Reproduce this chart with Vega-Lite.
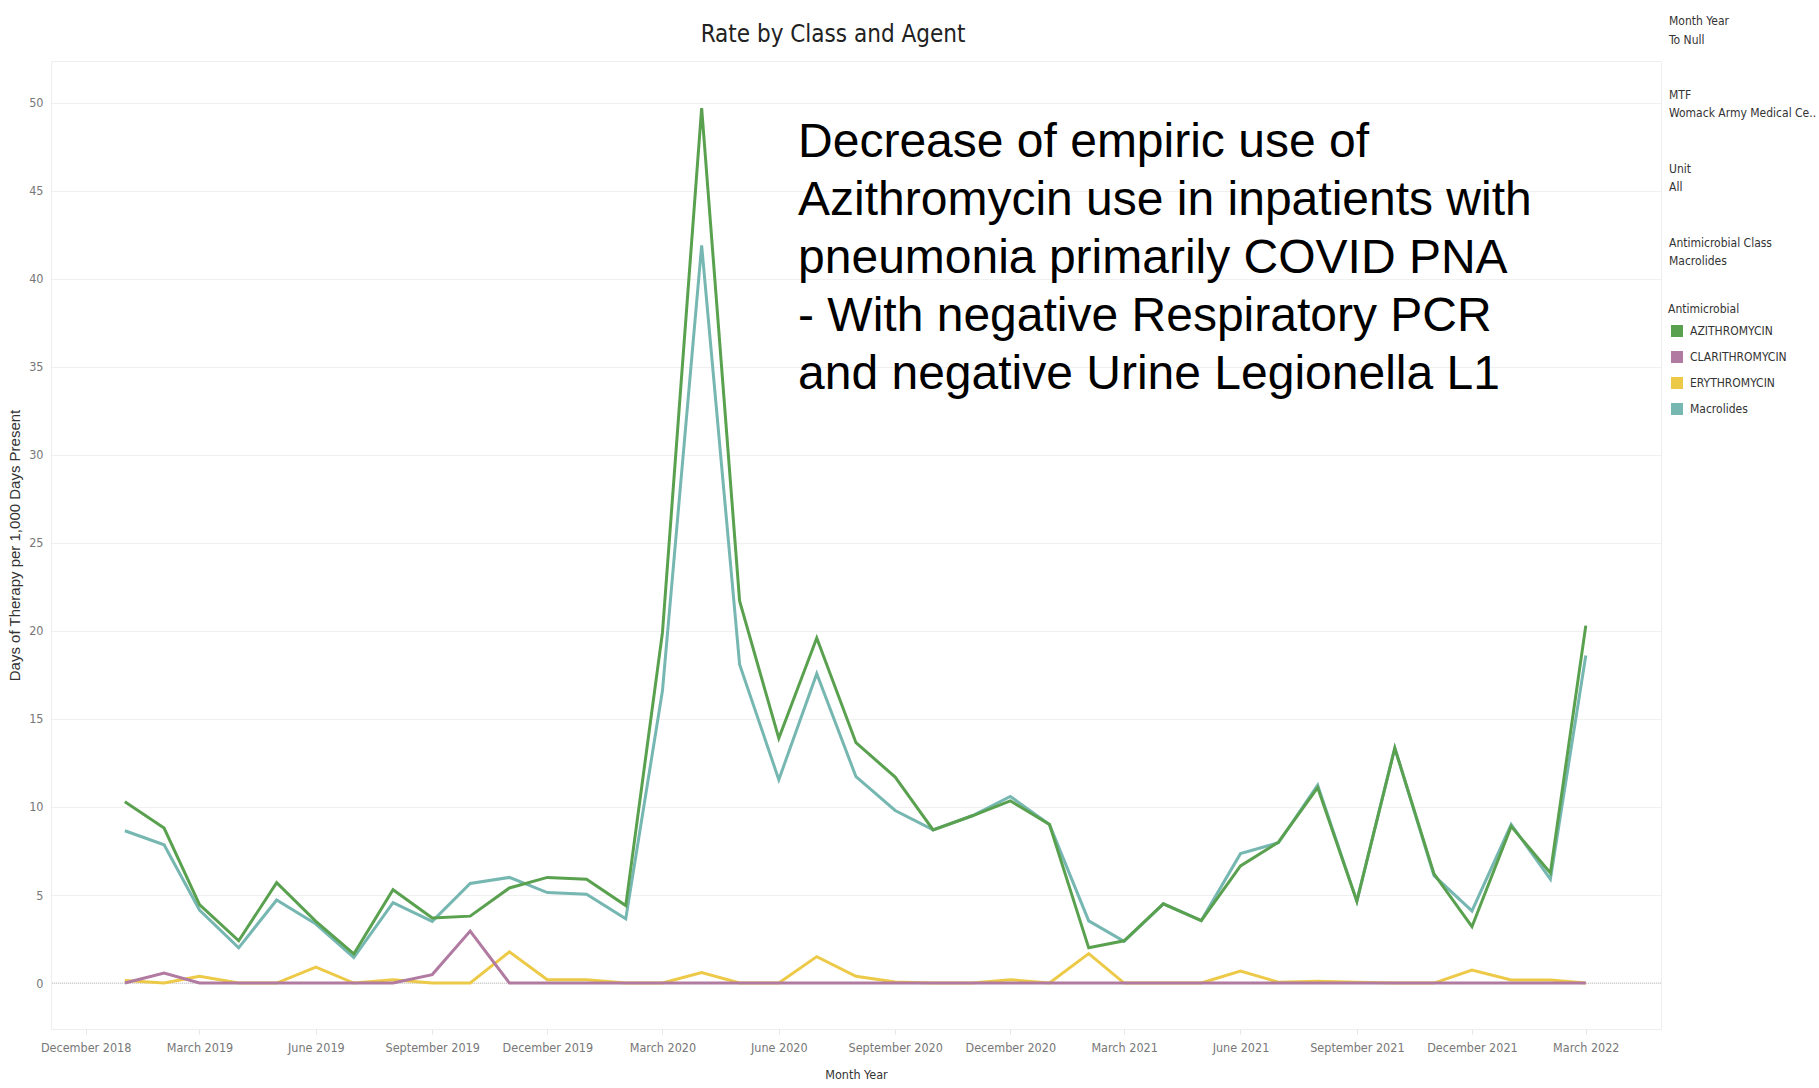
{
  "$schema": "https://vega.github.io/schema/vega-lite/v6.json",
  "background": "white",
  "padding": {"left": 7, "top": 15, "right": 2, "bottom": 2},
  "autosize": {"type": "pad"},
  "bounds": "flush",
  "spacing": 7,
  "config": {
    "font": "Liberation Sans Narrow, Arial Narrow, DejaVu Sans Condensed, Roboto Condensed, sans-serif",
    "view": {"stroke": "#eeeeee"}
  },
  "datasets": {
    "rates": [
      {"month": "2019-01-01", "agent": "AZITHROMYCIN", "rate": 10.3},
      {"month": "2019-02-01", "agent": "AZITHROMYCIN", "rate": 8.8},
      {"month": "2019-03-01", "agent": "AZITHROMYCIN", "rate": 4.45},
      {"month": "2019-04-01", "agent": "AZITHROMYCIN", "rate": 2.4},
      {"month": "2019-05-01", "agent": "AZITHROMYCIN", "rate": 5.7},
      {"month": "2019-06-01", "agent": "AZITHROMYCIN", "rate": 3.5},
      {"month": "2019-07-01", "agent": "AZITHROMYCIN", "rate": 1.65},
      {"month": "2019-08-01", "agent": "AZITHROMYCIN", "rate": 5.3},
      {"month": "2019-09-01", "agent": "AZITHROMYCIN", "rate": 3.7},
      {"month": "2019-10-01", "agent": "AZITHROMYCIN", "rate": 3.8},
      {"month": "2019-11-01", "agent": "AZITHROMYCIN", "rate": 5.4},
      {"month": "2019-12-01", "agent": "AZITHROMYCIN", "rate": 6.0},
      {"month": "2020-01-01", "agent": "AZITHROMYCIN", "rate": 5.9},
      {"month": "2020-02-01", "agent": "AZITHROMYCIN", "rate": 4.4},
      {"month": "2020-03-01", "agent": "AZITHROMYCIN", "rate": 19.9},
      {"month": "2020-04-01", "agent": "AZITHROMYCIN", "rate": 49.7},
      {"month": "2020-05-01", "agent": "AZITHROMYCIN", "rate": 21.7},
      {"month": "2020-06-01", "agent": "AZITHROMYCIN", "rate": 13.9},
      {"month": "2020-07-01", "agent": "AZITHROMYCIN", "rate": 19.6},
      {"month": "2020-08-01", "agent": "AZITHROMYCIN", "rate": 13.65},
      {"month": "2020-09-01", "agent": "AZITHROMYCIN", "rate": 11.7},
      {"month": "2020-10-01", "agent": "AZITHROMYCIN", "rate": 8.7},
      {"month": "2020-11-01", "agent": "AZITHROMYCIN", "rate": 9.5},
      {"month": "2020-12-01", "agent": "AZITHROMYCIN", "rate": 10.35},
      {"month": "2021-01-01", "agent": "AZITHROMYCIN", "rate": 9.0},
      {"month": "2021-02-01", "agent": "AZITHROMYCIN", "rate": 2.0},
      {"month": "2021-03-01", "agent": "AZITHROMYCIN", "rate": 2.4},
      {"month": "2021-04-01", "agent": "AZITHROMYCIN", "rate": 4.5},
      {"month": "2021-05-01", "agent": "AZITHROMYCIN", "rate": 3.55},
      {"month": "2021-06-01", "agent": "AZITHROMYCIN", "rate": 6.65},
      {"month": "2021-07-01", "agent": "AZITHROMYCIN", "rate": 8.0},
      {"month": "2021-08-01", "agent": "AZITHROMYCIN", "rate": 11.1},
      {"month": "2021-09-01", "agent": "AZITHROMYCIN", "rate": 4.65},
      {"month": "2021-10-01", "agent": "AZITHROMYCIN", "rate": 13.35},
      {"month": "2021-11-01", "agent": "AZITHROMYCIN", "rate": 6.2},
      {"month": "2021-12-01", "agent": "AZITHROMYCIN", "rate": 3.2},
      {"month": "2022-01-01", "agent": "AZITHROMYCIN", "rate": 8.9},
      {"month": "2022-02-01", "agent": "AZITHROMYCIN", "rate": 6.25},
      {"month": "2022-03-01", "agent": "AZITHROMYCIN", "rate": 20.3},
      {"month": "2019-01-01", "agent": "Macrolides", "rate": 8.65},
      {"month": "2019-02-01", "agent": "Macrolides", "rate": 7.85},
      {"month": "2019-03-01", "agent": "Macrolides", "rate": 4.15},
      {"month": "2019-04-01", "agent": "Macrolides", "rate": 2.0},
      {"month": "2019-05-01", "agent": "Macrolides", "rate": 4.72},
      {"month": "2019-06-01", "agent": "Macrolides", "rate": 3.35},
      {"month": "2019-07-01", "agent": "Macrolides", "rate": 1.45},
      {"month": "2019-08-01", "agent": "Macrolides", "rate": 4.57},
      {"month": "2019-09-01", "agent": "Macrolides", "rate": 3.5},
      {"month": "2019-10-01", "agent": "Macrolides", "rate": 5.66},
      {"month": "2019-11-01", "agent": "Macrolides", "rate": 6.0},
      {"month": "2019-12-01", "agent": "Macrolides", "rate": 5.14},
      {"month": "2020-01-01", "agent": "Macrolides", "rate": 5.05},
      {"month": "2020-02-01", "agent": "Macrolides", "rate": 3.65},
      {"month": "2020-03-01", "agent": "Macrolides", "rate": 16.6},
      {"month": "2020-04-01", "agent": "Macrolides", "rate": 41.9},
      {"month": "2020-05-01", "agent": "Macrolides", "rate": 18.1},
      {"month": "2020-06-01", "agent": "Macrolides", "rate": 11.55},
      {"month": "2020-07-01", "agent": "Macrolides", "rate": 17.57},
      {"month": "2020-08-01", "agent": "Macrolides", "rate": 11.72},
      {"month": "2020-09-01", "agent": "Macrolides", "rate": 9.8},
      {"month": "2020-10-01", "agent": "Macrolides", "rate": 8.7},
      {"month": "2020-11-01", "agent": "Macrolides", "rate": 9.5},
      {"month": "2020-12-01", "agent": "Macrolides", "rate": 10.6},
      {"month": "2021-01-01", "agent": "Macrolides", "rate": 9.0},
      {"month": "2021-02-01", "agent": "Macrolides", "rate": 3.53},
      {"month": "2021-03-01", "agent": "Macrolides", "rate": 2.37},
      {"month": "2021-04-01", "agent": "Macrolides", "rate": 4.5},
      {"month": "2021-05-01", "agent": "Macrolides", "rate": 3.55},
      {"month": "2021-06-01", "agent": "Macrolides", "rate": 7.35},
      {"month": "2021-07-01", "agent": "Macrolides", "rate": 7.97},
      {"month": "2021-08-01", "agent": "Macrolides", "rate": 11.25},
      {"month": "2021-09-01", "agent": "Macrolides", "rate": 4.65},
      {"month": "2021-10-01", "agent": "Macrolides", "rate": 13.35},
      {"month": "2021-11-01", "agent": "Macrolides", "rate": 6.1},
      {"month": "2021-12-01", "agent": "Macrolides", "rate": 4.1},
      {"month": "2022-01-01", "agent": "Macrolides", "rate": 9.0},
      {"month": "2022-02-01", "agent": "Macrolides", "rate": 5.9},
      {"month": "2022-03-01", "agent": "Macrolides", "rate": 18.6},
      {"month": "2019-01-01", "agent": "ERYTHROMYCIN", "rate": 0.15},
      {"month": "2019-02-01", "agent": "ERYTHROMYCIN", "rate": 0},
      {"month": "2019-03-01", "agent": "ERYTHROMYCIN", "rate": 0.38},
      {"month": "2019-04-01", "agent": "ERYTHROMYCIN", "rate": 0},
      {"month": "2019-05-01", "agent": "ERYTHROMYCIN", "rate": 0},
      {"month": "2019-06-01", "agent": "ERYTHROMYCIN", "rate": 0.9},
      {"month": "2019-07-01", "agent": "ERYTHROMYCIN", "rate": 0},
      {"month": "2019-08-01", "agent": "ERYTHROMYCIN", "rate": 0.19},
      {"month": "2019-09-01", "agent": "ERYTHROMYCIN", "rate": 0},
      {"month": "2019-10-01", "agent": "ERYTHROMYCIN", "rate": 0},
      {"month": "2019-11-01", "agent": "ERYTHROMYCIN", "rate": 1.77},
      {"month": "2019-12-01", "agent": "ERYTHROMYCIN", "rate": 0.19},
      {"month": "2020-01-01", "agent": "ERYTHROMYCIN", "rate": 0.19},
      {"month": "2020-02-01", "agent": "ERYTHROMYCIN", "rate": 0},
      {"month": "2020-03-01", "agent": "ERYTHROMYCIN", "rate": 0},
      {"month": "2020-04-01", "agent": "ERYTHROMYCIN", "rate": 0.6},
      {"month": "2020-05-01", "agent": "ERYTHROMYCIN", "rate": 0},
      {"month": "2020-06-01", "agent": "ERYTHROMYCIN", "rate": 0},
      {"month": "2020-07-01", "agent": "ERYTHROMYCIN", "rate": 1.5},
      {"month": "2020-08-01", "agent": "ERYTHROMYCIN", "rate": 0.38},
      {"month": "2020-09-01", "agent": "ERYTHROMYCIN", "rate": 0.06},
      {"month": "2020-10-01", "agent": "ERYTHROMYCIN", "rate": 0},
      {"month": "2020-11-01", "agent": "ERYTHROMYCIN", "rate": 0},
      {"month": "2020-12-01", "agent": "ERYTHROMYCIN", "rate": 0.19},
      {"month": "2021-01-01", "agent": "ERYTHROMYCIN", "rate": 0},
      {"month": "2021-02-01", "agent": "ERYTHROMYCIN", "rate": 1.67},
      {"month": "2021-03-01", "agent": "ERYTHROMYCIN", "rate": 0},
      {"month": "2021-04-01", "agent": "ERYTHROMYCIN", "rate": 0},
      {"month": "2021-05-01", "agent": "ERYTHROMYCIN", "rate": 0},
      {"month": "2021-06-01", "agent": "ERYTHROMYCIN", "rate": 0.68},
      {"month": "2021-07-01", "agent": "ERYTHROMYCIN", "rate": 0.05},
      {"month": "2021-08-01", "agent": "ERYTHROMYCIN", "rate": 0.1},
      {"month": "2021-09-01", "agent": "ERYTHROMYCIN", "rate": 0.04},
      {"month": "2021-10-01", "agent": "ERYTHROMYCIN", "rate": 0},
      {"month": "2021-11-01", "agent": "ERYTHROMYCIN", "rate": 0},
      {"month": "2021-12-01", "agent": "ERYTHROMYCIN", "rate": 0.74},
      {"month": "2022-01-01", "agent": "ERYTHROMYCIN", "rate": 0.17},
      {"month": "2022-02-01", "agent": "ERYTHROMYCIN", "rate": 0.17},
      {"month": "2022-03-01", "agent": "ERYTHROMYCIN", "rate": 0},
      {"month": "2019-01-01", "agent": "CLARITHROMYCIN", "rate": 0},
      {"month": "2019-02-01", "agent": "CLARITHROMYCIN", "rate": 0.57},
      {"month": "2019-03-01", "agent": "CLARITHROMYCIN", "rate": 0},
      {"month": "2019-04-01", "agent": "CLARITHROMYCIN", "rate": 0},
      {"month": "2019-05-01", "agent": "CLARITHROMYCIN", "rate": 0},
      {"month": "2019-06-01", "agent": "CLARITHROMYCIN", "rate": 0},
      {"month": "2019-07-01", "agent": "CLARITHROMYCIN", "rate": 0},
      {"month": "2019-08-01", "agent": "CLARITHROMYCIN", "rate": 0},
      {"month": "2019-09-01", "agent": "CLARITHROMYCIN", "rate": 0.48},
      {"month": "2019-10-01", "agent": "CLARITHROMYCIN", "rate": 2.95},
      {"month": "2019-11-01", "agent": "CLARITHROMYCIN", "rate": 0},
      {"month": "2019-12-01", "agent": "CLARITHROMYCIN", "rate": 0},
      {"month": "2020-01-01", "agent": "CLARITHROMYCIN", "rate": 0},
      {"month": "2020-02-01", "agent": "CLARITHROMYCIN", "rate": 0},
      {"month": "2020-03-01", "agent": "CLARITHROMYCIN", "rate": 0},
      {"month": "2020-04-01", "agent": "CLARITHROMYCIN", "rate": 0},
      {"month": "2020-05-01", "agent": "CLARITHROMYCIN", "rate": 0},
      {"month": "2020-06-01", "agent": "CLARITHROMYCIN", "rate": 0},
      {"month": "2020-07-01", "agent": "CLARITHROMYCIN", "rate": 0},
      {"month": "2020-08-01", "agent": "CLARITHROMYCIN", "rate": 0},
      {"month": "2020-09-01", "agent": "CLARITHROMYCIN", "rate": 0},
      {"month": "2020-10-01", "agent": "CLARITHROMYCIN", "rate": 0},
      {"month": "2020-11-01", "agent": "CLARITHROMYCIN", "rate": 0},
      {"month": "2020-12-01", "agent": "CLARITHROMYCIN", "rate": 0},
      {"month": "2021-01-01", "agent": "CLARITHROMYCIN", "rate": 0},
      {"month": "2021-02-01", "agent": "CLARITHROMYCIN", "rate": 0},
      {"month": "2021-03-01", "agent": "CLARITHROMYCIN", "rate": 0},
      {"month": "2021-04-01", "agent": "CLARITHROMYCIN", "rate": 0},
      {"month": "2021-05-01", "agent": "CLARITHROMYCIN", "rate": 0},
      {"month": "2021-06-01", "agent": "CLARITHROMYCIN", "rate": 0},
      {"month": "2021-07-01", "agent": "CLARITHROMYCIN", "rate": 0},
      {"month": "2021-08-01", "agent": "CLARITHROMYCIN", "rate": 0},
      {"month": "2021-09-01", "agent": "CLARITHROMYCIN", "rate": 0},
      {"month": "2021-10-01", "agent": "CLARITHROMYCIN", "rate": 0},
      {"month": "2021-11-01", "agent": "CLARITHROMYCIN", "rate": 0},
      {"month": "2021-12-01", "agent": "CLARITHROMYCIN", "rate": 0},
      {"month": "2022-01-01", "agent": "CLARITHROMYCIN", "rate": 0},
      {"month": "2022-02-01", "agent": "CLARITHROMYCIN", "rate": 0},
      {"month": "2022-03-01", "agent": "CLARITHROMYCIN", "rate": 0}
    ]
  },
  "hconcat": [
    {
      "width": 1610,
      "height": 968,
      "title": {
        "text": "Rate by Class and Agent",
        "fontSize": 24,
        "fontWeight": "normal",
        "color": "#222222",
        "anchor": "middle",
        "frame": "group",
        "dx": -23,
        "offset": -5,
        "baseline": "alphabetic"
      },
      "layer": [
        {
          "data": {"values": [{"rate": 0}]},
          "mark": {"type": "rule", "color": "#bdbdbd", "strokeWidth": 1, "strokeDash": [1, 1]},
          "encoding": {
            "y": {"field": "rate", "type": "quantitative"}
          }
        },
        {
          "data": {"name": "rates"},
          "encoding": {
            "x": {
              "field": "month",
              "type": "temporal",
              "title": "Month Year",
              "scale": {
                "type": "utc",
                "domain": [
                  {"year": 2018, "month": 11, "date": 3, "hours": 14, "minutes": 24, "utc": true},
                  {"year": 2022, "month": 4, "date": 29, "hours": 10, "minutes": 48, "utc": true}
                ]
              },
              "axis": {
                "values": [
                  {"year": 2018, "month": 12, "date": 1, "utc": true},
                  {"year": 2019, "month": 3, "date": 1, "utc": true},
                  {"year": 2019, "month": 6, "date": 1, "utc": true},
                  {"year": 2019, "month": 9, "date": 1, "utc": true},
                  {"year": 2019, "month": 12, "date": 1, "utc": true},
                  {"year": 2020, "month": 3, "date": 1, "utc": true},
                  {"year": 2020, "month": 6, "date": 1, "utc": true},
                  {"year": 2020, "month": 9, "date": 1, "utc": true},
                  {"year": 2020, "month": 12, "date": 1, "utc": true},
                  {"year": 2021, "month": 3, "date": 1, "utc": true},
                  {"year": 2021, "month": 6, "date": 1, "utc": true},
                  {"year": 2021, "month": 9, "date": 1, "utc": true},
                  {"year": 2021, "month": 12, "date": 1, "utc": true},
                  {"year": 2022, "month": 3, "date": 1, "utc": true}
                ],
                "labelExpr": "utcFormat(datum.value, '%B %Y')",
                "grid": false,
                "domain": false,
                "ticks": true,
                "tickColor": "#e6e6e6",
                "tickSize": 5,
                "labelColor": "#777777",
                "labelFontSize": 12.5,
                "labelPadding": 7,
                "labelOverlap": false,
                "titleColor": "#333333",
                "titleFontSize": 12.5,
                "titleFontWeight": "normal",
                "titlePadding": 15
              }
            },
            "y": {
              "field": "rate",
              "type": "quantitative",
              "title": "Days of Therapy per 1,000 Days Present",
              "scale": {"domain": [-2.61, 52.37], "nice": false, "zero": false},
              "axis": {
                "values": [0, 5, 10, 15, 20, 25, 30, 35, 40, 45, 50],
                "grid": true,
                "gridColor": "#f0f0f0",
                "domain": false,
                "ticks": false,
                "tickSize": 0,
                "labelColor": "#777777",
                "labelFontSize": 12.5,
                "labelPadding": 8,
                "titleFont": "Liberation Sans, Arial, sans-serif",
                "titleFontSize": 15,
                "titleFontWeight": "normal",
                "titleColor": "#333333",
                "titlePadding": 6
              }
            },
            "color": {
              "field": "agent",
              "type": "nominal",
              "scale": {
                "domain": ["AZITHROMYCIN", "CLARITHROMYCIN", "ERYTHROMYCIN", "Macrolides"],
                "range": ["#59A14F", "#B07AA1", "#EDC948", "#76B7B2"]
              },
              "legend": {
                "orient": "none",
                "legendX": 1617,
                "legendY": 243,
                "title": "Antimicrobial",
                "titleFontSize": 12,
                "titleFontWeight": "normal",
                "titleColor": "#333333",
                "titlePadding": 9,
                "labelFontSize": 12,
                "labelColor": "#333333",
                "labelOffset": 7,
                "symbolOffset": 3,
                "symbolType": "square",
                "symbolSize": 144,
                "symbolStrokeWidth": 0,
                "symbolOpacity": 1,
                "rowPadding": 14,
                "padding": 0,
                "encode": {
                  "symbols": {"update": {"fill": {"scale": "color", "field": "value"}, "fillOpacity": {"value": 1}}}
                }
              }
            }
          },
          "layer": [
            {"transform": [{"filter": "datum.agent === 'Macrolides'"}], "mark": {"type": "line", "strokeWidth": 3}},
            {"transform": [{"filter": "datum.agent === 'ERYTHROMYCIN'"}], "mark": {"type": "line", "strokeWidth": 3}},
            {"transform": [{"filter": "datum.agent === 'CLARITHROMYCIN'"}], "mark": {"type": "line", "strokeWidth": 3}},
            {"transform": [{"filter": "datum.agent === 'AZITHROMYCIN'"}], "mark": {"type": "line", "strokeWidth": 3}}
          ]
        },
        {
          "data": {"values": [
            {"month": "2020-06-16T05:00:00Z", "rate": 46.92, "note": "Decrease of empiric use of\nAzithromycin use in inpatients with\npneumonia primarily COVID PNA\n- With negative Respiratory PCR\nand negative Urine Legionella L1"}
          ]},
          "mark": {
            "type": "text",
            "align": "left",
            "baseline": "alphabetic",
            "font": "Liberation Sans, Arial, sans-serif",
            "fontSize": 48,
            "lineHeight": 58,
            "lineBreak": "\n",
            "color": "#000000"
          },
          "encoding": {
            "x": {"field": "month", "type": "temporal"},
            "y": {"field": "rate", "type": "quantitative"},
            "text": {"field": "note"}
          }
        }
      ]
    },
    {
      "width": 2,
      "height": 221.4,
      "view": {"stroke": null},
      "data": {"values": [
        {"order": 0, "card": "Month Year\nTo Null"},
        {"order": 1, "card": "MTF\nWomack Army Medical Ce.."},
        {"order": 2, "card": "Unit\nAll"},
        {"order": 3, "card": "Antimicrobial Class\nMacrolides"}
      ]},
      "mark": {
        "type": "text",
        "align": "left",
        "baseline": "top",
        "fontSize": 12,
        "lineHeight": 18.6,
        "lineBreak": "\n",
        "color": "#333333"
      },
      "encoding": {
        "y": {"field": "order", "type": "quantitative", "scale": {"domain": [0.6084, 3.6084], "reverse": true}, "axis": null},
        "text": {"field": "card"}
      }
    }
  ]
}
